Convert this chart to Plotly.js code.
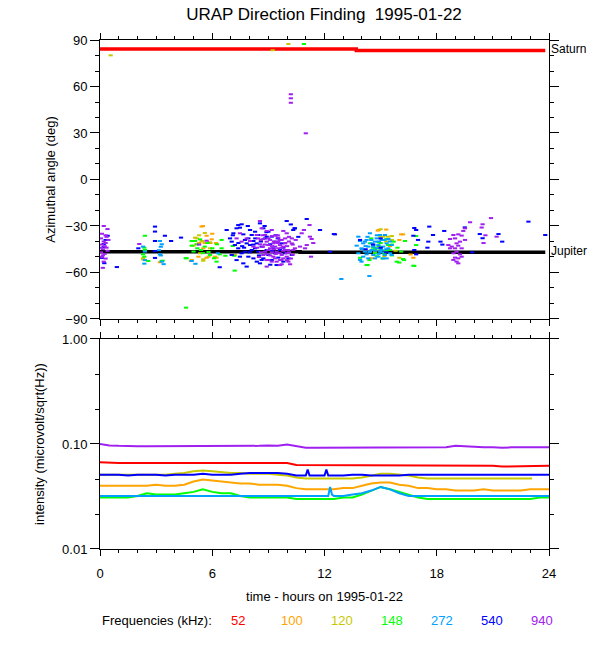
<!DOCTYPE html>
<html><head><meta charset="utf-8">
<script src="https://cdn.plot.ly/plotly-3.0.1.min.js"></script>
<style>html,body{margin:0;padding:0;background:#fff}#chart{width:600px;height:650px}</style>
</head><body><div id="chart"></div>
<script>
// ---------- Frequencies (kHz) and colours ----------
const freqLabels = ['52','100','120','148','272','540','940'];
const freqColors = ['#ff0000','#ffa500','#c8c800','#00ff00','#00a0ff','#0000ff','#a020f0'];

// ---------- Source direction lines (deg) ----------
const saturnHours = [0, 13.7, 23.8];
const saturnAngle = [84.2, 83.3, 83.3];
const jupiterHours = [0, 10.7, 23.8];
const jupiterAngle = [-46.6, -47.0, -47.0];

// ---------- Direction finding points: hours / azimuth (deg) per frequency ----------
const df100Hours = [5.43,5.7,5.97,5.17,5.43,5.26,4.9,5.7,6.15,5.52,2.3,3.2,5.5,6.0,4.86,5.3,5.6,5.9,6.2,14.9,15.3,16.1,16.0,16.75,16.6,14.5,14.85,16.2,7.2,15.5,14.7];
const df100Angle = [-30.4,-36.3,-38.6,-41.8,-39.9,-49.8,-51.9,-50.5,-49.8,-44.4,-50.8,-53.4,-30,-35,-52.6,-41,-41,-41,-41,-32.6,-32.3,-35.4,-39,-50.5,-48.4,-50.8,-33,-35.4,-48.7,-43,-47];

const df120Hours = [0.57,10.07,9.23,5.08,5.3,5.47,5.88,5.52,6.23,4.99,5.35,5.88,5.17,5.52,5.8,2.3,2.4,15,15.4,15.4,15.3,15.6,15.15,15.6,15.2,16,15,14.8,15.8,5.6];
const df120Angle = [80.1,87.4,83.4,-37.5,-36,-39.7,-40.5,-51.5,-50.5,-42.7,-47.6,-44.4,-38,-52.4,-49.8,-51.5,-52,-36.9,-36.9,-38.4,-40,-39,-36.9,-36.5,-49.4,-50.5,-32.1,-44,-46,-34.5];

const df148Hours = [10.9,2.4,2.37,2.4,2.3,2.58,3.3,2.37,3.35,5.08,5.17,5.2,4.9,5.4,5.6,5.8,5.88,6.23,6.4,6.5,6.25,6.0,4.58,4.9,5.35,6.1,6.5,4.6,7.2,4.63,6.7,7.18,7.1,5.5,5.0,5.75,
  14.43,14.7,15.4,14.3,15.7,16.3,16.9,16.75,15.86,16.2,13.9,16.9,16.8,16.25,16.0,14.25,15.0,15.2,14.9,15.5,15.9,14.6,15.1,15.6,14.4,16.1,15.3,14.8,
  14.5,14.9,15.3,15.6,15.0,14.7];
const df148Angle = [87.4,-36.3,-44,-45.5,-48.3,-52.6,-52.6,-49.8,-52.4,-39.7,-41.8,-44.4,-42.7,-45.5,-43.3,-46.8,-48.7,-53,-48.3,-39,-41.8,-44.4,-50.8,-39.7,-38.6,-50.8,-44.4,-82.7,-58.8,-50.8,-49.2,-49.2,-42.9,-47.5,-46.5,-41.0,
  -41.2,-47.6,-42.3,-55.2,-40.1,-39.7,-42.3,-55.6,-53,-51.3,-50.5,-36.5,-55.8,-52,-53.6,-55.2,-45,-48,-40.5,-45.5,-44,-44,-51,-49,-52,-46.5,-38.5,-49.5,
  -38,-43,-46,-42,-41,-45];

const df272Hours = [2.3,2.4,3.2,3.3,3.25,3.2,3.3,3.4,2.37,3.15,2.4,3.25,4.9,6.3,5.1,12.9,14.4,
  13.81,13.90,13.72,13.98,14.07,14.16,13.90,13.98,14.25,14.34,14.43,14.52,14.61,14.70,14.79,14.88,14.96,15.05,15.14,15.23,15.32,15.41,15.50,15.59,
  14.34,14.70,14.88,15.14,14.52,14.79,14.16,14.96,15.41,15.23,14.25,14.43,15.05,14.61,14.07,13.81,15.32,15.59,
  14.0,14.2,14.5,14.7,14.9,15.1,15.3,15.5,14.3,14.6,14.8,15.0,15.2,14.4,14.9];
const df272Angle = [-43.3,-52,-39.7,-41.8,-43.4,-48.3,-53,-54.6,-54.3,-45.6,-46.5,-49,-52.6,-47.6,-54.4,-64.2,-62.3,
  -36.9,-39.7,-42.7,-44.4,-41.2,-46.6,-51.9,-53.0,-39.0,-43.3,-34.7,-45.5,-48.7,-40.1,-44.4,-42.3,-46.6,-39.0,-43.3,-48.7,-41.2,-44.4,-47.6,-42.3,
  -50.9,-50.9,-49.8,-50.9,-41.2,-38.0,-40.1,-35.8,-38.4,-35.8,-48.3,-46.6,-45.5,-43.3,-49.8,-47.6,-50.9,-48.7,
  -45,-43,-39,-46,-40,-47,-45,-40,-37,-42,-36,-44,-39,-47,-48];

const df540Hours = [0.2,0.2,0.1,0.23,0.9,0.41,0.3,2.94,2.94,2.94,3.47,3.8,2.94,2.94,2.05,4.33,6.4,
  6.77,6.95,7.13,7.30,7.39,7.48,7.57,7.66,7.75,7.84,7.93,8.02,8.11,8.20,8.29,8.38,8.46,8.55,8.64,8.73,8.82,8.91,9.00,9.09,9.18,9.27,9.36,9.44,9.53,9.62,9.80,9.89,9.98,10.07,10.25,10.33,10.42,
  7.48,7.66,7.84,7.75,7.39,7.21,7.04,7.57,7.93,8.20,8.38,8.55,8.02,8.29,8.46,8.73,9.00,7.04,8.91,8.64,9.36,9.18,8.11,9.71,
  7.1,7.4,7.7,8.0,8.3,8.6,8.9,9.2,9.5,9.8,7.3,7.6,7.9,8.2,8.5,8.8,9.1,9.4,10.2,10.6,
  11.05,11.76,12.56,10.4,12.3,12.5,
  13.9,15.0,15.0,16.8,16.9,17.0,16.75,16.8,16.9,17.55,17.6,17.8,17.5,18.2,18.3,18.4,20.45,19.9,19.5,20.3,21.3,21.5,22.9,23.8,14.6,14.2,15.3];
const df540Angle = [-41.6,-43.5,-50.6,-54,-56.5,-36.3,-39,-30.4,-33.6,-39.7,-36.3,-39.7,-46.2,-50.6,-44.4,-37.5,-56.6,
  -32.6,-38.0,-34.7,-31.5,-29.4,-31.1,-28.9,-35.4,-39.0,-41.2,-38.0,-42.3,-35.8,-39.7,-44.4,-41.2,-46.6,-28.3,-43.3,-50.9,-38.0,-45.5,-48.7,-41.8,-51.9,-44.4,-47.6,-55.2,-50.4,-45.5,-53.0,-47.6,-26.8,-50.9,-48.7,-32.6,-31.5,
  -49.8,-54.1,-56.2,-46.6,-44.4,-42.3,-40.1,-47.6,-49.8,-50.9,-53.0,-54.1,-32.6,-33.7,-35.8,-31.5,-33.7,-48.7,-36.9,-51.9,-40.1,-36.9,-45.5,-41.2,
  -36,-41,-44,-47,-38,-40,-34,-46,-38,-44,-52,-43,-30,-42,-49,-30,-55,-36,-29,-37,
  -25.5,-32.6,-35.4,-31.5,-46.6,-35.2,
  -39,-38,-44,-31.3,-32.6,-39,-36.3,-45.5,-48.3,-40.1,-30.4,-35.8,-44,-40.1,-42,-33.2,-37.9,-47,-30.9,-35.2,-35.2,-40.1,-27.2,-35.8,-42,-45,-47];

const df940Hours = [0.05,0.1,0.15,0.2,0.25,0.1,0.3,0.35,0.2,0.15,0.4,0.05,0.3,0.25,0.45,0.1,0.4,0.2,0.3,0.05,0.15,0.35,2.1,5.7,5.3,
  8.55,8.64,8.91,9.18,9.36,9.53,9.80,9.98,10.25,10.46,9.89,9.62,9.36,9.09,8.91,8.73,8.46,8.55,8.82,9.18,9.44,9.71,9.98,10.07,10.16,9.80,9.53,9.27,9.00,9.44,9.62,8.91,
  10.69,10.96,11.05,11.22,11.28,10.78,11.31,10.42,10.33,10.07,10.25,9.89,9.71,9.09,8.82,8.38,8.20,8.02,7.48,7.30,7.57,7.84,9.00,9.27,9.53,9.80,9.98,9.36,9.62,8.73,9.18,9.71,
  9.0,9.4,8.7,10.1,9.6,10.3,8.9,9.9,9.2,10.0,
  8.4,8.6,8.8,9.1,9.3,9.5,9.7,9.9,10.1,10.3,8.5,8.7,9.0,9.2,9.4,9.6,9.8,10.0,10.2,8.9,9.3,9.7,10.1,9.5,8.6,
  10.9,11.2,11.4,10.2,10.2,10.2,11.0,
  18.71,18.89,18.98,19.15,19.33,19.51,19.42,19.06,19.24,18.80,18.98,19.15,19.33,19.06,18.89,19.24,18.98,19.15,19.33,19.06,18.89,19.15,18.71,19.51,19.78,18.62,
  20.4,20.6,20.9,20.5,21.2,20.45];
const df940Angle = [-38,-42,-45,-40,-48,-50,-36,-44,-53,-57,-32,-47,-51,-43,-39,-35,-46,-30,-41,-44,-49,-37,-41.6,-39.5,-42,
  -26.8,-31.5,-33.2,-32.6,-36.2,-37.5,-33.2,-34.7,-38.0,-39.0,-41.2,-42.3,-43.3,-44.4,-40.1,-38.4,-38.0,-41.8,-46.6,-47.0,-46.6,-48.7,-49.8,-53.0,-54.7,-50.9,-44.4,-49.8,-51.9,-53.0,-55.2,-56.2,
  -43.3,-44.4,-42.3,-36.9,-49.8,-34.7,-38.4,-44.4,-45.5,-45.5,-41.2,-45.5,-39.0,-39.0,-35.8,-35.8,-43.3,-39.7,-34.7,-38.0,-40.1,-38.0,-42.3,-41.2,-40.1,-43.3,-47.6,-50.9,-51.9,-48.7,-53.0,-54.7,
  -45.5,-40.5,-43.5,-40.0,-47.5,-48.5,-48.0,-38.0,-36.5,-52.0,
  -44,-47,-42,-49,-45,-36,-44,-41,-47,-42,-50,-36,-38,-43,-48,-39,-46,-43,-51,-52,-40,-52,-37,-41,-39,
  -32.6,-29.4,-41,55,52.4,49.5,29.8,
  -38.4,-35.8,-38.0,-35.4,-36.2,-31.5,-33.2,-41.2,-40.1,-43.3,-44.4,-42.7,-44.4,-46.6,-47.6,-48.3,-50.4,-50.9,-49.8,-53.0,-51.9,-54.1,-44.4,-39.0,-27.6,-42.3,
  -31,-36,-24.9,-41,-36.9,-28.9];

// ---------- Intensity (microvolt/sqrt(Hz)) time series ----------
const halfHours = [0,0.5,1,1.5,2,2.5,3,3.5,4,4.5,5,5.5,6,6.5,7,7.5,8,8.5,9,9.5,10,10.5,11,11.5,12,12.5,13,13.5,14,14.5,15,15.5,16,16.5,17,17.5,18,18.5,19,19.5,20,20.5,21,21.5,22,22.5,23,23.5,24];
const int52 = [0.067,0.066,0.066,0.066,0.066,0.066,0.066,0.066,0.066,0.065,0.066,0.065,0.065,0.065,0.065,0.065,0.065,0.065,0.065,0.066,0.066,0.063,0.063,0.063,0.063,0.063,0.063,0.063,0.063,0.063,0.063,0.063,0.063,0.062,0.063,0.062,0.062,0.062,0.062,0.062,0.062,0.062,0.062,0.061,0.061,0.061,0.061,0.062,0.062];
const int100 = [0.040,0.040,0.040,0.040,0.040,0.040,0.041,0.040,0.040,0.041,0.044,0.046,0.045,0.044,0.043,0.042,0.042,0.041,0.041,0.041,0.040,0.038,0.037,0.037,0.037,0.037,0.038,0.038,0.040,0.042,0.043,0.043,0.041,0.040,0.038,0.038,0.037,0.037,0.036,0.036,0.036,0.037,0.036,0.036,0.036,0.036,0.037,0.037,0.037];
const int120Hours = [0,0.5,1,1.5,2,2.5,3,3.5,4,4.5,5,5.5,6,6.5,7,7.5,8,8.5,9,9.5,10,10.5,11,11.5,12,12.5,13,13.5,14,14.5,15,15.5,16,16.5,17,17.5,18,18.5,19,19.5,20,20.5,21,21.5,22,22.5,23,23.1];
const int120 = [0.051,0.051,0.051,0.051,0.051,0.051,0.051,0.051,0.052,0.053,0.055,0.056,0.055,0.054,0.053,0.053,0.052,0.052,0.052,0.051,0.050,0.048,0.047,0.047,0.047,0.047,0.047,0.047,0.048,0.050,0.052,0.052,0.051,0.050,0.048,0.047,0.047,0.047,0.047,0.047,0.047,0.047,0.047,0.047,0.047,0.047,0.047,0.047];
const int148 = [0.031,0.031,0.031,0.031,0.032,0.034,0.033,0.033,0.033,0.034,0.035,0.037,0.035,0.034,0.034,0.032,0.031,0.031,0.031,0.031,0.031,0.030,0.030,0.030,0.030,0.030,0.031,0.031,0.033,0.036,0.039,0.037,0.035,0.033,0.031,0.030,0.030,0.030,0.030,0.030,0.030,0.030,0.030,0.030,0.030,0.030,0.030,0.031,0.031];
const int272Hours = [0,0.5,1,1.5,2,2.5,3,3.5,4,4.5,5,5.5,6,6.5,7,7.5,8,8.5,9,9.5,10,10.5,11,11.5,12,12.2,12.3,12.4,12.5,13,13.5,14,14.5,15,15.5,16,16.5,17,17.5,18,18.5,19,19.5,20,20.5,21,21.5,22,22.5,23,23.5,24];
const int272 = [0.032,0.032,0.032,0.032,0.032,0.032,0.032,0.032,0.032,0.032,0.032,0.032,0.032,0.032,0.032,0.032,0.032,0.032,0.032,0.032,0.032,0.032,0.032,0.032,0.032,0.032,0.039,0.033,0.032,0.032,0.033,0.034,0.036,0.039,0.037,0.034,0.032,0.032,0.032,0.032,0.032,0.032,0.032,0.032,0.032,0.032,0.032,0.032,0.032,0.032,0.032,0.032];
const int540Hours = [0,0.5,1,1.5,2,2.5,3,3.5,4,4.5,5,5.5,6,6.5,7,7.5,8,8.5,9,9.5,10,10.5,11,11.1,11.2,11.5,12,12.1,12.2,12.5,13,13.5,14,14.5,15,15.5,16,16.5,17,17.5,18,18.5,19,19.5,20,20.5,21,21.5,22,22.5,23,23.5,24];
const int540 = [0.051,0.051,0.051,0.050,0.051,0.051,0.051,0.050,0.051,0.051,0.051,0.052,0.051,0.051,0.051,0.052,0.053,0.053,0.053,0.053,0.052,0.050,0.050,0.057,0.050,0.050,0.050,0.057,0.050,0.050,0.050,0.051,0.051,0.050,0.050,0.050,0.050,0.051,0.051,0.051,0.051,0.051,0.051,0.051,0.051,0.051,0.051,0.051,0.051,0.051,0.051,0.051,0.051];
const int940 = [0.100,0.097,0.096,0.095,0.095,0.095,0.095,0.095,0.096,0.095,0.095,0.095,0.095,0.095,0.095,0.096,0.096,0.096,0.097,0.096,0.099,0.095,0.092,0.092,0.092,0.092,0.092,0.092,0.092,0.092,0.092,0.092,0.092,0.092,0.092,0.092,0.092,0.093,0.096,0.095,0.093,0.093,0.093,0.092,0.093,0.093,0.093,0.093,0.093];

// ---------- Axis ticks ----------
const hourTicks = [0,6,12,18,24];
const angleTicks = [-90,-60,-30,0,30,60,90];
const intensityTicks = [0.01,0.1,1];
const intensityTickText = ['0.01','0.10','1.00'];
const intensityMinor = [0.0215,0.0464,0.215,0.464];

const FONT = 'Liberation Sans, Arial, Helvetica, sans-serif';

const dfHours = [null, df100Hours, df120Hours, df148Hours, df272Hours, df540Hours, df940Hours];
const dfAngle = [null, df100Angle, df120Angle, df148Angle, df272Angle, df540Angle, df940Angle];
const intHours = [halfHours, halfHours, int120Hours, halfHours, int272Hours, int540Hours, halfHours];
const intVals = [int52, int100, int120, int148, int272, int540, int940];

const traces = [];
traces.push({x: saturnHours, y: saturnAngle, xaxis:'x', yaxis:'y', mode:'lines', line:{color:'#ff0000', width:3.5, shape:'hv'}, hoverinfo:'skip'});
traces.push({x: jupiterHours, y: jupiterAngle, xaxis:'x', yaxis:'y', mode:'lines', line:{color:'#000000', width:3.5, shape:'hv'}, hoverinfo:'skip'});
for (let i = 1; i < 7; i++) {
  traces.push({x: dfHours[i], y: dfAngle[i], xaxis:'x', yaxis:'y', mode:'markers',
    marker:{symbol:'line-ew', size:3, color:freqColors[i], line:{color:freqColors[i], width:2}}, name: freqLabels[i]});
}
for (let i = 0; i < 7; i++) {
  traces.push({x: intHours[i], y: intVals[i], xaxis:'x2', yaxis:'y2', mode:'lines',
    line:{color:freqColors[i], width:2}, name: freqLabels[i]});
}

const axisCommon = {showline:true, linecolor:'#000', linewidth:1, ticks:'outside', tickcolor:'#000', tickwidth:1,
  mirror:'allticks', showgrid:false, zeroline:false, tickfont:{family:FONT, size:13, color:'#000'}};

const annotations = [
  {xref:'paper', yref:'y', x:1.0, y:84.5, xanchor:'left', yanchor:'middle', text:'Saturn', showarrow:false, font:{family:FONT, size:12, color:'#000'}},
  {xref:'paper', yref:'y', x:1.0, y:-46.2, xanchor:'left', yanchor:'middle', text:'Jupiter', showarrow:false, font:{family:FONT, size:12, color:'#000'}},
  {xref:'paper', yref:'paper', x:0, y:(549-620)/509, xanchor:'left', yanchor:'middle', text:'Frequencies (kHz):', showarrow:false, font:{family:FONT, size:13, color:'#000'}}
];
const legendCenters = [238,292,342,392,442,492,542];
for (let i = 0; i < 7; i++) {
  annotations.push({xref:'paper', yref:'paper', x:(legendCenters[i]-100)/449, y:(549-620)/509, xanchor:'center', yanchor:'middle',
    text:freqLabels[i], showarrow:false, font:{family:FONT, size:13, color:freqColors[i]}});
}

const layout = {
  width:600, height:650,
  margin:{l:100, r:51, t:40, b:101},
  paper_bgcolor:'#fff', plot_bgcolor:'#fff',
  showlegend:false,
  title:{text:'URAP Direction Finding\u00a0\u00a01995-01-22', font:{family:FONT, size:17, color:'#000'}, x:0.54, xanchor:'center', y:0.978, yanchor:'middle'},
  xaxis: Object.assign({}, axisCommon, {domain:[0,1], range:[0,24], anchor:'y', tickvals:hourTicks, showticklabels:false, ticklen:6,
    minor:{dtick:1, tick0:0, ticklen:3, ticks:'outside', tickcolor:'#000', showgrid:false}}),
  yaxis: Object.assign({}, axisCommon, {domain:[0.4519,1], range:[-90,90], anchor:'x', tickvals:angleTicks, ticklen:9,
    minor:{dtick:10, tick0:0, ticklen:4, ticks:'outside', tickcolor:'#000', showgrid:false},
    title:{text:'Azimuthal angle (deg)', font:{family:FONT, size:13, color:'#000'}, standoff:6}}),
  xaxis2: Object.assign({}, axisCommon, {domain:[0,1], range:[0,24], anchor:'y2', tickvals:hourTicks, ticklen:6, ticklabelstandoff:6,
    minor:{dtick:1, tick0:0, ticklen:3, ticks:'outside', tickcolor:'#000', showgrid:false},
    title:{text:'time - hours on 1995-01-22', font:{family:FONT, size:13, color:'#000'}, standoff:12}}),
  yaxis2: Object.assign({}, axisCommon, {domain:[0,0.4126], type:'log', range:[-2,0], anchor:'x2', tickvals:intensityTicks, ticktext:intensityTickText, ticklen:9,
    minor:{tickvals:intensityMinor, ticklen:4, ticks:'outside', tickcolor:'#000', showgrid:false},
    title:{text:'intensity (microvolt/sqrt(Hz))', font:{family:FONT, size:13, color:'#000'}, standoff:14}}),
  annotations: annotations
};

Plotly.newPlot('chart', traces, layout, {staticPlot:true, displayModeBar:false});
</script>
</body></html>
